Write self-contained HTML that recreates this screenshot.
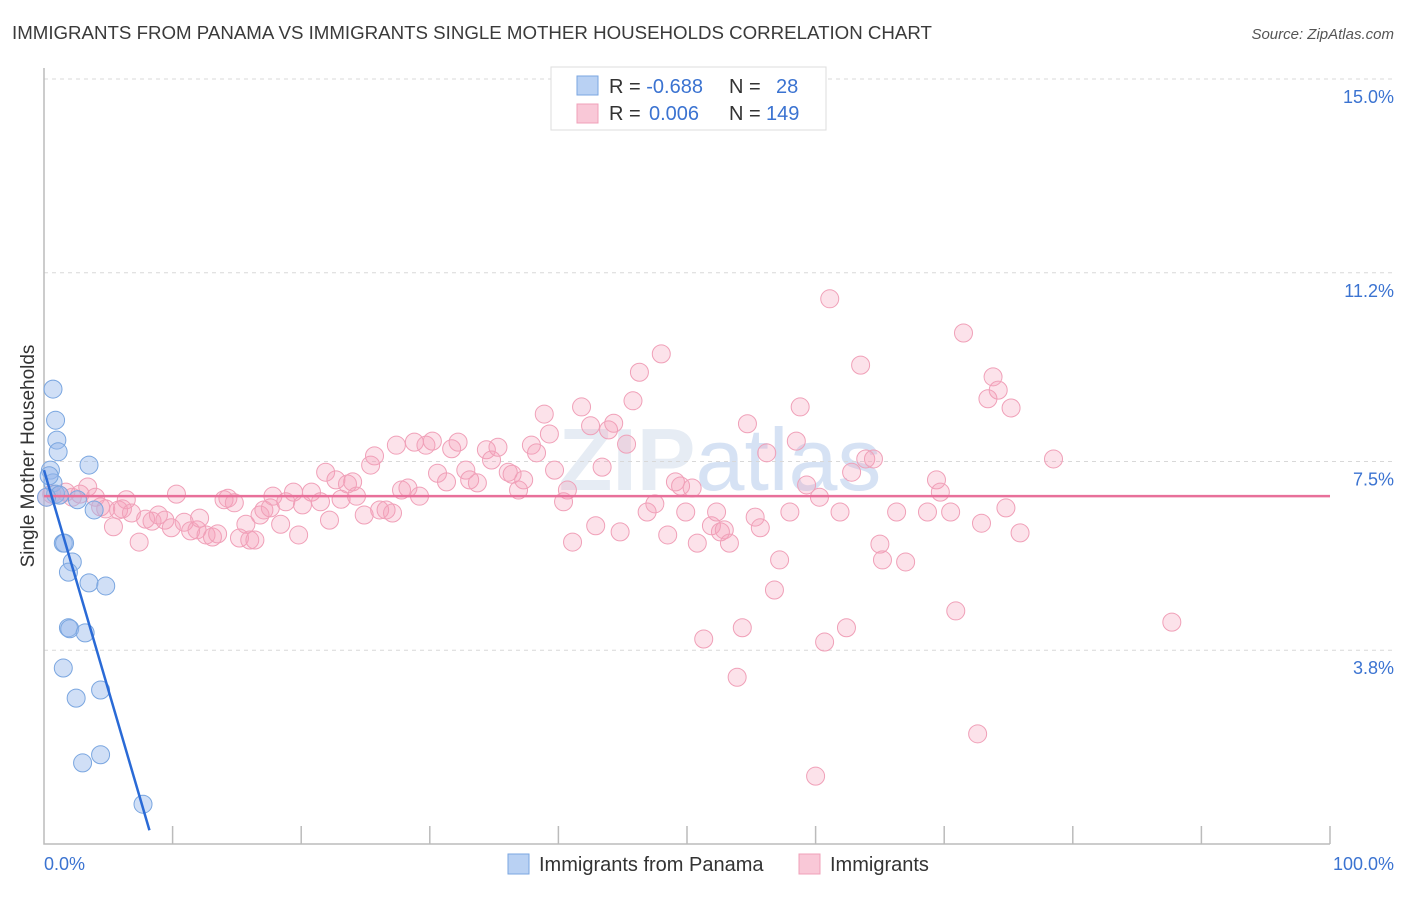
<!DOCTYPE html>
<html><head><meta charset="utf-8"><style>
body{margin:0;background:#fff;font-family:"Liberation Sans",sans-serif;}
</style></head><body>
<svg id="chart" width="1406" height="892" xmlns="http://www.w3.org/2000/svg" font-family="Liberation Sans, sans-serif">
<text x="12" y="39" font-size="18.7" fill="#3a3a3a">IMMIGRANTS FROM PANAMA VS IMMIGRANTS SINGLE MOTHER HOUSEHOLDS CORRELATION CHART</text>
<text x="1394" y="39" font-size="15" fill="#555" text-anchor="end" font-style="italic">Source: ZipAtlas.com</text>
<text x="720" y="490" font-size="88" fill="#e6ecf4" text-anchor="middle" font-weight="bold">ZIP<tspan fill="#d6e2f4" font-weight="normal">atlas</tspan></text>
<g id="grid"></g><g id="axes"></g><g id="pts"></g><g id="trends"></g>
<text transform="translate(34,456) rotate(-90)" font-size="19" fill="#333" text-anchor="middle">Single Mother Households</text>
<text x="44" y="870" font-size="18" fill="#3b73d1">0.0%</text>
<text x="1394" y="870" font-size="18" fill="#3b73d1" text-anchor="end">100.0%</text>
<g>
<rect x="551" y="67" width="275" height="63" fill="#fff" stroke="#ddd"/>
<rect x="577" y="76" width="21" height="19" fill="#b9d1f3" stroke="#7aa6e0"/>
<rect x="577" y="104" width="21" height="19" fill="#f9c8d7" stroke="#f0a0b8"/>
<text x="609" y="93" font-size="20" fill="#333">R = <tspan fill="#3b73d1">-0.688</tspan><tspan x="729">N = </tspan><tspan x="776" fill="#3b73d1">28</tspan></text>
<text x="609" y="120" font-size="20" fill="#333">R = <tspan x="649" fill="#3b73d1">0.006</tspan><tspan x="729">N = </tspan><tspan x="766" fill="#3b73d1">149</tspan></text>
</g>
<g>
<rect x="508" y="854" width="21" height="20" fill="#b9d1f3" stroke="#7aa6e0"/>
<text x="539" y="871" font-size="20" fill="#333">Immigrants from Panama</text>
<rect x="799" y="854" width="21" height="20" fill="#f9c8d7" stroke="#f0a0b8"/>
<text x="830" y="871" font-size="20" fill="#333">Immigrants</text>
</g>
</svg>
<script>
const yTicks=[15.0,11.2,7.5,3.8];
const yTickLabels=["15.0%","11.2%","7.5%","3.8%"];
const xTicks=[10,20,30,40,50,60,70,80,90,100];
const blueX=[0.7,0.9,1.0,1.1,3.5,0.5,0.7,0.4,0.9,1.2,2.6,3.9,1.5,1.6,2.2,1.9,3.5,4.8,1.9,2.0,3.2,1.5,2.5,4.4,3.0,4.4,7.7,0.2];
const blueY=[8.92,8.31,7.92,7.69,7.43,7.33,7.08,7.22,6.86,6.84,6.75,6.55,5.90,5.90,5.53,5.33,5.12,5.06,4.24,4.22,4.14,3.45,2.86,3.02,1.59,1.75,0.78,6.80];
const pinkX=[0.2,0.6,1.2,1.7,2.2,2.8,3.4,4.0,4.4,4.8,5.4,5.8,6.4,6.1,6.8,7.4,7.9,8.4,8.9,9.4,9.9,10.3,10.9,11.4,11.9,12.1,12.6,13.1,13.5,14.0,14.3,14.8,15.2,15.7,16.0,16.4,16.8,17.1,17.6,17.8,18.4,18.8,19.4,19.8,20.1,20.8,21.5,21.9,22.2,22.7,23.1,23.6,24.0,24.3,24.9,25.4,25.7,26.1,26.6,27.1,27.4,27.8,28.3,28.8,29.2,29.7,30.2,30.6,31.3,31.7,32.2,32.8,33.1,33.7,34.4,34.8,35.3,36.1,36.4,36.9,37.3,37.9,38.3,38.9,39.3,39.7,40.4,40.7,41.1,41.8,42.5,42.9,43.4,43.9,44.3,44.8,45.3,45.8,46.3,46.9,47.5,48.0,48.5,49.1,49.5,49.9,50.4,50.8,51.3,51.9,52.3,52.6,52.9,53.3,53.9,54.3,54.7,55.3,55.7,56.2,56.8,57.2,58.0,58.5,58.8,59.3,60.0,60.3,60.7,61.1,61.9,62.4,62.8,63.5,63.9,64.5,65.0,65.2,66.3,67.0,68.7,69.4,69.7,70.5,70.9,71.5,72.9,72.6,73.4,73.8,74.2,74.8,75.2,75.9,78.5,87.7];
const pinkY=[6.80,6.86,6.84,6.90,6.80,6.86,7.00,6.80,6.61,6.57,6.22,6.55,6.75,6.57,6.49,5.92,6.37,6.33,6.45,6.35,6.20,6.86,6.31,6.14,6.16,6.39,6.06,6.02,6.08,6.75,6.78,6.69,6.00,6.27,5.96,5.96,6.45,6.55,6.59,6.82,6.27,6.71,6.90,6.06,6.65,6.90,6.71,7.29,6.35,7.14,6.76,7.06,7.10,6.82,6.45,7.43,7.61,6.55,6.55,6.49,7.82,6.94,6.98,7.88,6.82,7.82,7.90,7.27,7.10,7.75,7.88,7.33,7.14,7.08,7.73,7.53,7.78,7.29,7.25,6.94,7.14,7.82,7.67,8.43,8.04,7.33,6.71,6.94,5.92,8.57,8.20,6.24,7.39,8.12,8.25,6.12,7.84,8.69,9.25,6.51,6.67,9.61,6.06,7.10,7.02,6.51,6.98,5.90,4.02,6.24,6.51,6.12,6.16,5.90,3.27,4.24,8.24,6.41,6.20,7.67,4.98,5.57,6.51,7.90,8.57,7.04,1.33,6.80,3.96,10.69,6.51,4.24,7.29,9.39,7.55,7.55,5.88,5.57,6.51,5.53,6.51,7.14,6.90,6.51,4.57,10.02,6.29,2.16,8.73,9.16,8.90,6.59,8.55,6.10,7.55,4.35];
const blueTrendX=[0,8.2];
const blueTrendY=[7.33,0.27];
const pinkTrendX=[0,100];
const pinkTrendY=[6.82,6.82];
const NS="http://www.w3.org/2000/svg";
const X=v=>44+v*12.86;
const Y=v=>844-v*51;
function mk(tag,parent,attrs){const e=document.createElementNS(NS,tag);for(const k in attrs)e.setAttribute(k,attrs[k]);document.getElementById(parent).appendChild(e);return e;}
yTicks.forEach((t,i)=>{
 const g=mk('line','grid',{x1:44,x2:1394,y1:Y(t),y2:Y(t),stroke:'#d8d8d8','stroke-dasharray':'4,4'});
 
 
 const l=mk('text','grid',{x:1394,y:Y(t)+24,'font-size':18,fill:'#3b73d1','text-anchor':'end'});
 l.textContent=yTickLabels[i];
 
 
});
const ax=mk('path','axes',{d:`M44,68 V844 H1330`,stroke:'#bbb',fill:'none','stroke-width':1.5});


xTicks.forEach(t=>{
 const k=mk('line','axes',{x1:X(t),x2:X(t),y1:826,y2:844,stroke:'#bbb','stroke-width':1.5});
 
 
});
pinkX.forEach((x,i)=>{
 const c=mk('circle','pts',{cx:X(x),cy:Y(pinkY[i]),r:9,fill:'rgba(244,160,185,0.3)',stroke:'#f0a0b8','stroke-width':1});
 
 
});
blueX.forEach((x,i)=>{
 const c=mk('circle','pts',{cx:X(x),cy:Y(blueY[i]),r:9,fill:'rgba(150,185,235,0.45)',stroke:'#7aa6e0','stroke-width':1});
 
 
});
const pl=mk('line','trends',{x1:X(pinkTrendX[0]),y1:Y(pinkTrendY[0]),x2:X(pinkTrendX[1]),y2:Y(pinkTrendY[1]),stroke:'#e8709a','stroke-width':2.5});


const bl=mk('line','trends',{x1:X(blueTrendX[0]),y1:Y(blueTrendY[0]),x2:X(blueTrendX[1]),y2:Y(blueTrendY[1]),stroke:'#2a6ad6','stroke-width':2.5});


</script>
</body></html>
